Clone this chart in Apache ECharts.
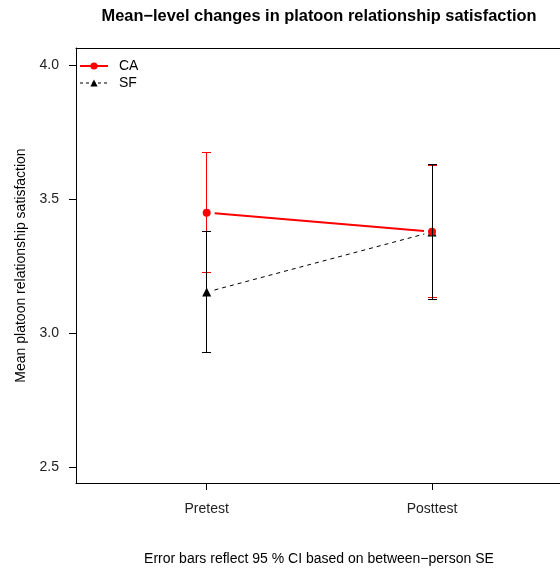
<!DOCTYPE html>
<html>
<head>
<meta charset="utf-8">
<script src="https://cdn.jsdelivr.net/npm/echarts@6/dist/echarts.min.js"></script>
<style>html,body{margin:0;padding:0;background:#fff}#c{width:560px;height:569px}</style>
</head>
<body>
<div id="c"></div>
<script>
var categories = ['Pretest', 'Posttest'];
var xPositions = [1, 2];
var caMeans = [3.449, 3.378];
var caLow = [3.226, 3.131];
var caHigh = [3.673, 3.625];
var sfMeans = [3.153, 3.377];
var sfLow = [2.929, 3.126];
var sfHigh = [3.377, 3.629];
var yTicks = [2.5, 3.0, 3.5, 4.0];

var FONT = 'Liberation Sans, Arial, sans-serif';

function pts(vals) { return xPositions.map(function (x, i) { return [x, vals[i]]; }); }
function bars(lo, hi) { return xPositions.map(function (x, i) { return [x, lo[i], hi[i]]; }); }
function segs(vals) {
  var out = [];
  for (var i = 1; i < xPositions.length; i++) out.push([xPositions[i - 1], vals[i - 1], xPositions[i], vals[i]]);
  return out;
}
function crisp(v) { return Math.floor(v) + 0.5; }

function errRender(color) {
  return function (params, api) {
    var x = api.value(0);
    var lo = api.coord([x, api.value(1)]);
    var hi = api.coord([x, api.value(2)]);
    var cx = crisp(lo[0]), yl = crisp(lo[1]), yh = crisp(hi[1]);
    var w = 4.5;
    var st = { stroke: color, lineWidth: 1, fill: null };
    return {
      type: 'group',
      children: [
        { type: 'line', shape: { x1: cx, y1: yl, x2: cx, y2: yh }, style: st },
        { type: 'line', shape: { x1: cx - w, y1: yh, x2: cx + w, y2: yh }, style: st },
        { type: 'line', shape: { x1: cx - w, y1: yl, x2: cx + w, y2: yl }, style: st }
      ]
    };
  };
}

// R type="b": connecting segments stop short of the points
function segRender(color, width, dash) {
  return function (params, api) {
    var a = api.coord([api.value(0), api.value(1)]);
    var b = api.coord([api.value(2), api.value(3)]);
    var dx = b[0] - a[0], dy = b[1] - a[1];
    var len = Math.sqrt(dx * dx + dy * dy);
    var g = 8;
    var ux = dx / len, uy = dy / len;
    return {
      type: 'line',
      shape: { x1: a[0] + ux * g, y1: a[1] + uy * g, x2: b[0] - ux * g, y2: b[1] - uy * g },
      style: { stroke: color, lineWidth: width, lineDash: dash, fill: null }
    };
  };
}

var xMin = 0.42, xMax = 2.568;

var chart = echarts.init(document.getElementById('c'), null, { renderer: 'canvas' });
chart.setOption({
  animation: false,
  backgroundColor: '#fff',
  textStyle: { fontFamily: FONT },
  grid: { left: 76, right: 0, top: 48, bottom: 86, show: false },
  graphic: [
    { type: 'text', x: 319, y: 16, style: { text: 'Mean\u2212level changes in platoon relationship satisfaction', textAlign: 'center', textVerticalAlign: 'middle', font: 'bold 16.4px ' + FONT, fill: '#000' } },
    { type: 'text', x: 319, y: 559, style: { text: 'Error bars reflect 95 % CI based on between\u2212person SE', textAlign: 'center', textVerticalAlign: 'middle', font: '14px ' + FONT, fill: '#000' } }
  ],
  legend: {
    orient: 'vertical', left: 79, top: 59, padding: 0, itemWidth: 28, itemHeight: 9, itemGap: 3,
    data: [
      { name: 'CA', lineStyle: { opacity: 1, color: '#ff0000', width: 2, type: 'solid' } },
      { name: 'SF', lineStyle: { opacity: 1, color: '#000', width: 1, type: [3, 3] } }
    ],
    textStyle: { fontSize: 14, color: '#000', fontFamily: FONT, padding: [0, 0, 0, 6] }
  },
  xAxis: [{
    type: 'value', min: xMin, max: xMax, position: 'bottom',
    splitLine: { show: false },
    axisLine: { show: true, onZero: false, lineStyle: { color: '#000', width: 1 } },
    axisTick: { show: true, length: 7, lineStyle: { color: '#000' }, customValues: xPositions },
    axisLabel: { margin: 19, fontSize: 14, color: '#222', customValues: xPositions,
      formatter: function (v) { var i = xPositions.indexOf(v); return i >= 0 ? categories[i] : ''; } }
  }, {
    type: 'value', min: xMin, max: xMax, position: 'top',
    splitLine: { show: false },
    axisLine: { show: true, onZero: false, lineStyle: { color: '#000', width: 1 } },
    axisTick: { show: false }, axisLabel: { show: false }
  }],
  yAxis: {
    type: 'value', min: 2.4415, max: 4.0625,
    name: 'Mean platoon relationship satisfaction', nameLocation: 'middle', nameGap: 48,
    nameTextStyle: { fontSize: 14, color: '#000', fontFamily: FONT },
    splitLine: { show: false },
    axisLine: { show: true, onZero: false, lineStyle: { color: '#000', width: 1 } },
    axisTick: { show: true, length: 7, lineStyle: { color: '#000' }, customValues: yTicks },
    axisLabel: { margin: 17, fontSize: 14, color: '#222', padding: [3, 0, 0, 0], customValues: yTicks,
      formatter: function (v) { return v.toFixed(1); } }
  },
  series: [
    { name: 'SF line', type: 'custom', data: segs(sfMeans), z: 1, renderItem: segRender('#000', 1, [4, 4]) },
    { name: 'CA line', type: 'custom', data: segs(caMeans), z: 1, renderItem: segRender('#ff0000', 2, null) },
    { name: 'SF', type: 'line', data: pts(sfMeans), z: 2,
      lineStyle: { color: '#000', width: 1, opacity: 0 },
      itemStyle: { color: '#000' }, symbol: 'triangle', symbolSize: 9, showSymbol: true },
    { name: 'CA', type: 'line', data: pts(caMeans), z: 3,
      lineStyle: { color: '#ff0000', width: 2, opacity: 0 },
      itemStyle: { color: '#ff0000' }, symbol: 'circle', symbolSize: 8, showSymbol: true },
    { name: 'CA CI', type: 'custom', data: bars(caLow, caHigh), z: 4, renderItem: errRender('#ff0000') },
    { name: 'SF CI', type: 'custom', data: bars(sfLow, sfHigh), z: 5, renderItem: errRender('#000') }
  ]
});
</script>
</body>
</html>
